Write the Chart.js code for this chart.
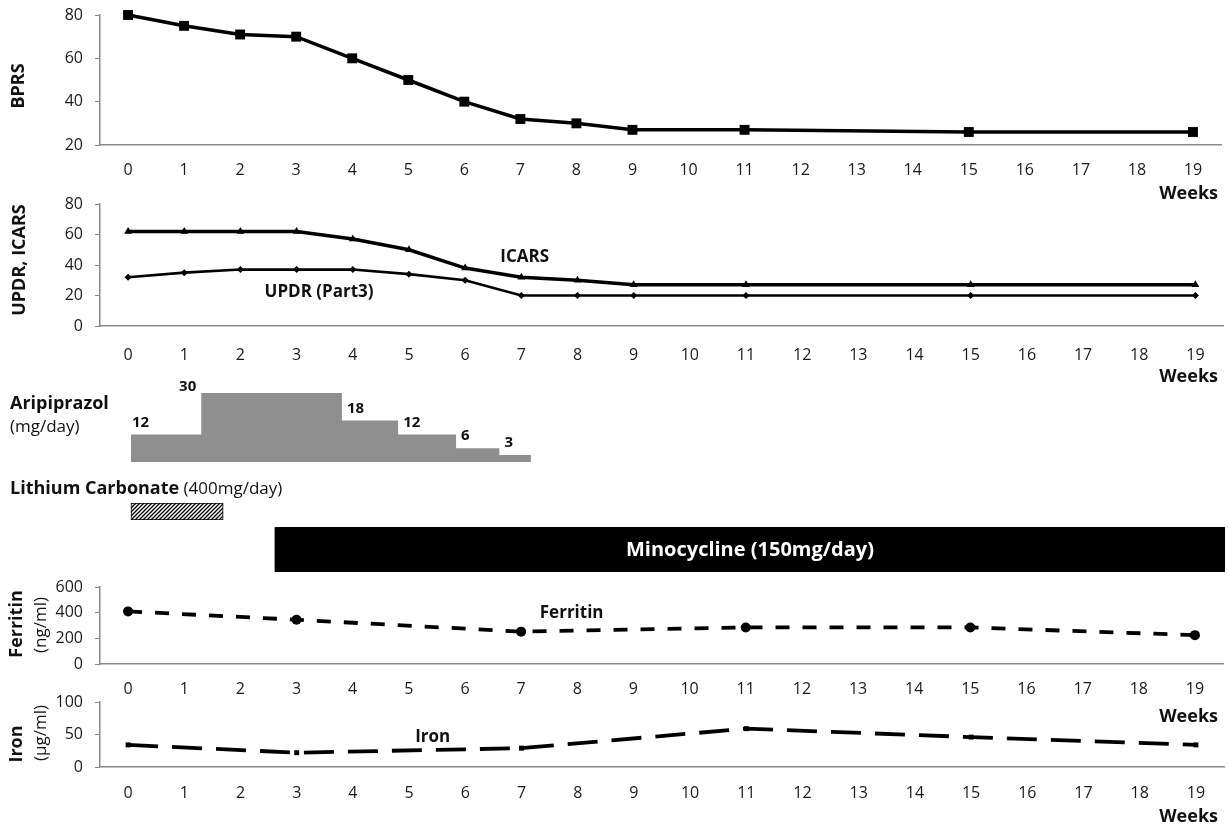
<!DOCTYPE html>
<html>
<head>
<meta charset="utf-8">
<script src="https://cdn.jsdelivr.net/npm/chart.js@4.4.0/dist/chart.umd.min.js"></script>
<style>
  body { margin: 0; background: #fff; width: 1228px; height: 829px; position: relative; overflow: hidden; }
  canvas { position: absolute; left: 0; }
</style>
</head>
<body>
<script>
// weeks on the x axis
const weeks = ["0", "1", "2", "3", "4", "5", "6", "7", "8", "9", "10", "11", "12", "13", "14", "15", "16", "17", "18", "19"];

// scores (null = not measured that week)
const bprs  = [80, 75, 71, 70, 60, 50, 40, 32, 30, 27, null, 27, null, null, null, 26, null, null, null, 26];
const icars = [62, 62, 62, 62, 57, 50, 38, 32, 30, 27, null, 27, null, null, null, 27, null, null, null, 27];
const updrs = [32, 35, 37, 37, 37, 34, 30, 20, 20, 20, null, 20, null, null, null, 20, null, null, null, 20];

// blood values
const ferritin = [410, null, null, 345, null, null, null, 252, null, null, null, 285, null, null, null, 285, null, null, null, 225];
const iron     = [34, null, null, 22, null, null, null, 29, null, null, null, 59, null, null, null, 46, null, null, null, 34];

// medication (in weeks)
const aripStart = [0.05, 1.3, 3.8, 4.8, 5.83, 6.6];
const aripEnd = 7.16;
const aripDose = [12, 30, 18, 12, 6, 3];
const lithium = [0.05, 1.69];
const minocycline = [2.61, 19.5];

Chart.defaults.font.family = "'Open Sans', sans-serif";
Chart.defaults.font.size = 16;
Chart.defaults.color = "#1a1a1a";
Chart.defaults.animation = false;
Chart.defaults.plugins.legend.display = false;
Chart.defaults.plugins.tooltip.enabled = false;

const AXIS = "#8a8a8a";
const FONT = "'Open Sans', sans-serif";

function addCanvas(top, height) {
  const c = document.createElement("canvas");
  c.width = 1228;
  c.height = height;
  c.style.top = top + "px";
  document.body.appendChild(c);
  return c;
}

function deco(cfg) {
  return {
    id: "deco",
    afterDraw(chart) {
      const ctx = chart.ctx;
      const ca = chart.chartArea;
      ctx.save();
      ctx.fillStyle = "#111";
      (cfg.yTitle || []).forEach(t => {
        ctx.save();
        ctx.translate(t.x, t.y - cfg.top);
        ctx.rotate(-Math.PI / 2);
        ctx.font = t.bold ? "bold 18px " + FONT : "17px " + FONT;
        ctx.textAlign = "center";
        ctx.textBaseline = "middle";
        ctx.fillText(t.text, 0, 0);
        ctx.restore();
      });
      if (cfg.weeks) {
        ctx.font = "bold 18px " + FONT;
        ctx.textAlign = "right";
        ctx.textBaseline = "middle";
        ctx.fillText("Weeks", 1218, ca.bottom + cfg.weeks);
      }
      (cfg.notes || []).forEach(n => {
        ctx.font = "bold 17px " + FONT;
        ctx.textAlign = "center";
        ctx.textBaseline = "middle";
        ctx.fillText(n.text, chart.scales.x.getPixelForValue(n.week), chart.scales.y.getPixelForValue(n.value));
      });
      ctx.restore();
    }
  };
}

function linePanel(p) {
  // 12px padding + 9px half label overhang reserved by the y axis
  const top = p.plotTop - 21;
  const xH = 62;
  const c = addCanvas(top, 21 + (p.plotBottom - p.plotTop) + xH);
  p.top = top;
  return new Chart(c, {
    type: "line",
    data: { labels: weeks, datasets: p.datasets },
    options: {
      responsive: false,
      layout: { padding: { top: 12, right: 3, left: 0, bottom: 0 } },
      scales: {
        x: {
          offset: true,
          grid: { display: false },
          border: { color: AXIS, width: 1.5 },
          ticks: { padding: p.xPad, maxRotation: 0, autoSkip: false, font: { size: 16, lineHeight: 1.125 } },
          afterFit: s => { s.height = xH; }
        },
        y: {
          min: p.min, max: p.max,
          grid: { drawOnChartArea: false, drawTicks: true, tickLength: 5, color: AXIS },
          border: { color: AXIS, width: 1.5 },
          ticks: { stepSize: p.step, padding: 12, font: { size: 16, lineHeight: 1.125 } },
          afterFit: s => { s.width = 100; }
        }
      }
    },
    plugins: [deco(p)]
  });
}

function lineSet(data, o) {
  return Object.assign({
    data: data,
    borderColor: "#000",
    backgroundColor: "#000",
    pointBackgroundColor: "#000",
    pointBorderColor: "#000",
    pointBorderWidth: 0,
    spanGaps: true,
    tension: 0,
    fill: false,
    clip: false
  }, o);
}

// BPRS
linePanel({
  plotTop: 15, plotBottom: 145, min: 20, max: 80, step: 20, xPad: 8, weeks: 49,
  yTitle: [{ text: "BPRS", bold: true, x: 19, y: 86 }],
  datasets: [lineSet(bprs, { borderWidth: 3.5, pointStyle: "rect", pointRadius: 7 })]
});

// UPDR / ICARS
linePanel({
  plotTop: 204, plotBottom: 326, min: 0, max: 80, step: 20, xPad: 12, weeks: 51,
  yTitle: [{ text: "UPDR, ICARS", bold: true, x: 20, y: 260 }],
  notes: [{ text: "ICARS", week: 7.06, value: 45 }, { text: "UPDR (Part3)", week: 3.4, value: 22.3 }],
  datasets: [
    lineSet(icars, { borderWidth: 3.5, pointStyle: "triangle", pointRadius: 4.5 }),
    lineSet(updrs, { borderWidth: 2.6, pointStyle: "rectRot", pointRadius: 3.5 })
  ]
});

// Ferritin
linePanel({
  plotTop: 587, plotBottom: 664, min: 0, max: 600, step: 200, xPad: 8, weeks: 53,
  yTitle: [{ text: "Ferritin", bold: true, x: 17, y: 624 }, { text: "(ng/ml)", bold: false, x: 41, y: 625 }],
  notes: [{ text: "Ferritin", week: 7.9, value: 400 }],
  datasets: [lineSet(ferritin, { borderWidth: 3.8, borderDash: [14, 13], pointStyle: "circle", pointRadius: 5 })]
});

// Iron
linePanel({
  plotTop: 702, plotBottom: 767, min: 0, max: 100, step: 50, xPad: 9, weeks: 50,
  yTitle: [{ text: "Iron", bold: true, x: 17, y: 744 }, { text: "(µg/ml)", bold: false, x: 41, y: 733 }],
  notes: [{ text: "Iron", week: 5.42, value: 46 }],
  datasets: [lineSet(iron, { borderWidth: 3.8, borderDash: [30, 14], pointStyle: "rect", pointRadius: 3.5 })]
});

// static labels for medication rows
const lab = addCanvas(380, 120);
(function () {
  const ctx = lab.getContext("2d");
  ctx.fillStyle = "#111";
  ctx.textBaseline = "middle";
  ctx.font = "bold 18px " + FONT;
  ctx.fillText("Aripiprazol", 10, 404 - 380);
  ctx.font = "17px " + FONT;
  ctx.fillText("(mg/day)", 10, 427 - 380);
  ctx.font = "bold 18px " + FONT;
  ctx.fillText("Lithium Carbonate", 10, 489 - 380);
  const w = ctx.measureText("Lithium Carbonate").width;
  ctx.font = "17px " + FONT;
  ctx.fillText(" (400mg/day)", 10 + w, 489 - 380);
})();

const wideX = { type: "linear", min: -0.5, max: 19.5, display: false };

// Aripiprazol step chart
(function () {
  const top = 380, bottom = 470;
  const c = addCanvas(top, bottom - top);
  const pts = aripStart.map((s, i) => ({ x: s, y: aripDose[i] }));
  pts.push({ x: aripEnd, y: aripDose[aripDose.length - 1] });
  new Chart(c, {
    type: "line",
    data: { datasets: [{ data: pts, stepped: true, fill: "origin", backgroundColor: "#8f8f8f", borderColor: "rgba(0,0,0,0)", borderWidth: 0, pointRadius: 0 }] },
    options: {
      responsive: false,
      layout: { padding: { left: 100, right: 3, top: 393 - top, bottom: bottom - 462 } },
      scales: { x: wideX, y: { min: 0, max: 30, display: false } }
    },
    plugins: [{
      id: "doses",
      afterDraw(chart) {
        const ctx = chart.ctx, xs = chart.scales.x, ys = chart.scales.y;
        ctx.save();
        ctx.fillStyle = "#111";
        ctx.font = "bold 15px " + FONT;
        ctx.textBaseline = "middle";
        const peak = aripDose.indexOf(Math.max(...aripDose));
        aripDose.forEach((d, i) => {
          const px = xs.getPixelForValue(aripStart[i]);
          const py = ys.getPixelForValue(d);
          if (i === peak) {
            ctx.textAlign = "right";
            ctx.fillText(String(d), px - 5, py - 6);
          } else {
            ctx.textAlign = "left";
            ctx.fillText(String(d), px + (i === 0 ? 1 : 5), py - 12);
          }
        });
        ctx.restore();
      }
    }]
  });
})();

// Lithium carbonate hatched bar
(function () {
  const p = document.createElement("canvas");
  p.width = 4; p.height = 4;
  const pc = p.getContext("2d");
  pc.fillStyle = "#fff"; pc.fillRect(0, 0, 4, 4);
  pc.strokeStyle = "#000"; pc.lineWidth = 1.3;
  pc.beginPath();
  pc.moveTo(-1, 5); pc.lineTo(5, -1);
  pc.moveTo(-1, 1); pc.lineTo(1, -1);
  pc.moveTo(3, 5); pc.lineTo(5, 3);
  pc.stroke();
  const c = addCanvas(503, 17);
  const pattern = c.getContext("2d").createPattern(p, "repeat");
  new Chart(c, {
    type: "bar",
    data: { labels: ["Lithium Carbonate"], datasets: [{ data: [lithium], backgroundColor: pattern, borderColor: "#000", borderWidth: 1, borderSkipped: false, barPercentage: 1, categoryPercentage: 1 }] },
    options: {
      responsive: false, indexAxis: "y",
      layout: { padding: { left: 100, right: 3, top: 0, bottom: 0 } },
      scales: { x: wideX, y: { display: false } }
    }
  });
})();

// Minocycline bar
(function () {
  const c = addCanvas(527, 45);
  new Chart(c, {
    type: "bar",
    data: { labels: ["Minocycline"], datasets: [{ data: [minocycline], backgroundColor: "#000", borderWidth: 0, barPercentage: 1, categoryPercentage: 1 }] },
    options: {
      responsive: false, indexAxis: "y",
      layout: { padding: { left: 100, right: 3, top: 0, bottom: 0 } },
      scales: { x: wideX, y: { display: false } }
    },
    plugins: [{
      id: "minoLabel",
      afterDraw(chart) {
        const ctx = chart.ctx, xs = chart.scales.x;
        const cx = (xs.getPixelForValue(minocycline[0]) + xs.getPixelForValue(minocycline[1])) / 2;
        ctx.save();
        ctx.fillStyle = "#fff";
        ctx.font = "bold 20px " + FONT;
        ctx.textAlign = "center";
        ctx.textBaseline = "middle";
        ctx.fillText("Minocycline (150mg/day)", cx, 23);
        ctx.restore();
      }
    }]
  });
})();
</script>
</body>
</html>
